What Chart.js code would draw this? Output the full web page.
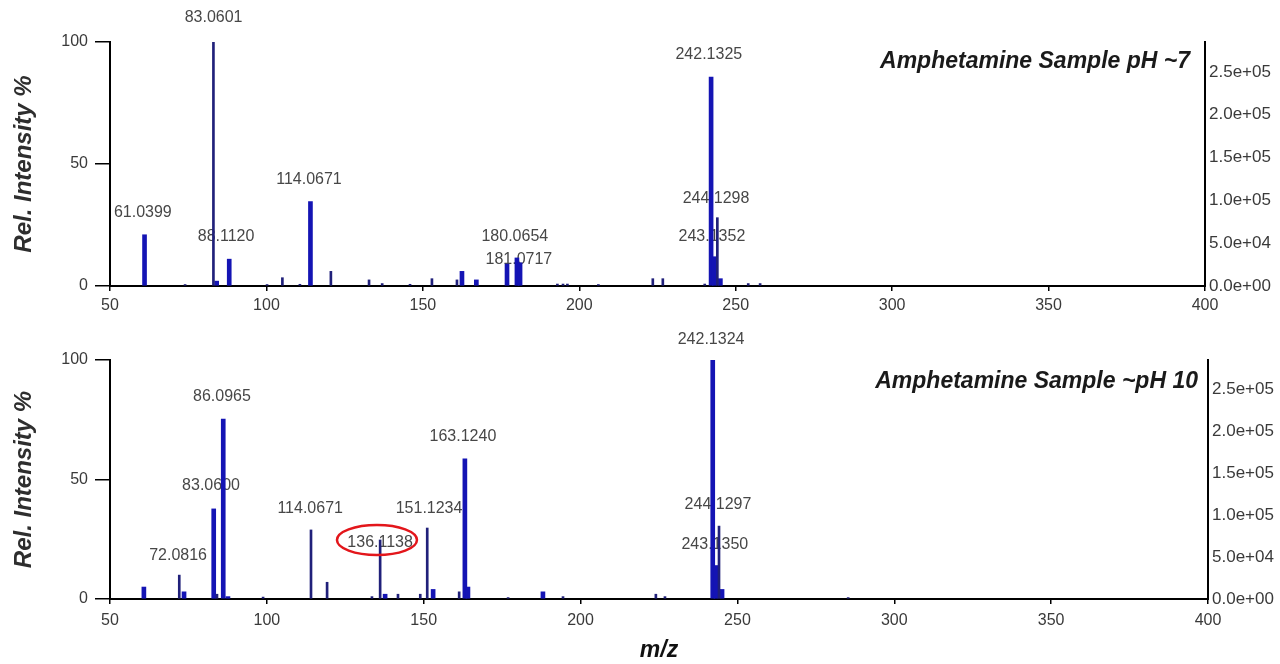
<!DOCTYPE html>
<html>
<head>
<meta charset="utf-8">
<script src="https://cdn.jsdelivr.net/npm/chart.js@4.4.1/dist/chart.umd.min.js"></script>
<style>
  body { margin: 0; background: #fff; }
  #wrap { position: relative; width: 1280px; height: 664px; }
  canvas { position: absolute; left: 0; }
</style>
</head>
<body>
<div id="wrap">
  <canvas id="ph7" width="1280" height="330" style="top:0"></canvas>
  <canvas id="ph10" width="1280" height="334" style="top:330px"></canvas>
</div>
<script>
// m/z ticks and intensity ticks
var mzTicks = [50, 100, 150, 200, 250, 300, 350, 400];
var relTicks = [0, 50, 100];
var countTicks = [0, 50000, 100000, 150000, 200000, 250000];
var countMax = 285000; // counts at 100 %

// pH ~7 sample : broad peaks and narrow lines
var ph7WideMz  = [61.04, 84.1, 88.11, 114.07, 162.5, 167.1, 176.9, 180.07, 181.07, 242.13, 243.14, 245.1];
var ph7WideRel = [21, 2, 11, 34.6, 6, 2.5, 9, 11.5, 9.5, 85.6, 12, 3];
var ph7ThinMz  = [74.0, 83.06, 100.2, 105.1, 110.7, 120.6, 132.8, 137.0, 145.9, 152.9, 160.9, 193.0, 194.8, 196.2, 206.1, 223.5, 226.7, 240.1, 244.13, 254.0, 257.8];
var ph7ThinRel = [0.6, 100, 0.6, 3.4, 0.7, 6, 2.5, 1, 0.7, 3, 2.5, 0.8, 0.8, 0.8, 0.6, 3, 3, 0.8, 28, 1, 1];
var ph7LabelText = ['83.0601', '61.0399', '88.1120', '114.0671', '180.0654', '181.0717', '242.1325', '244.1298', '243.1352'];
var ph7LabelMz   = [83.1, 60.5, 87.1, 113.6, 179.4, 180.7, 241.4, 243.7, 242.4];
var ph7LabelRel  = [110, 30, 20.2, 43.6, 20.2, 10.7, 95, 35.8, 20.2];

// pH ~10 sample
var ph10WideMz  = [60.8, 73.6, 83.06, 86.10, 87.6, 137.7, 153.0, 163.12, 164.1, 188.0, 242.13, 243.14, 245.1];
var ph10WideRel = [5, 3, 37.7, 75.3, 1, 2, 4, 58.6, 5, 3, 100, 14, 4];
var ph10ThinMz  = [72.08, 84.1, 98.8, 114.07, 119.2, 133.5, 136.11, 141.8, 148.9, 151.12, 161.3, 176.9, 194.4, 224.0, 226.9, 244.13, 285.3];
var ph10ThinRel = [10, 2, 0.8, 28.9, 7, 1, 24.7, 2, 2, 29.7, 3, 0.6, 1, 2, 1, 30.5, 0.6];
var ph10LabelText = ['242.1324', '86.0965', '83.0600', '72.0816', '114.0671', '136.1138', '151.1234', '163.1240', '244.1297', '243.1350'];
var ph10LabelMz   = [241.6, 85.7, 82.2, 71.7, 113.8, 136.1, 151.7, 162.5, 243.8, 242.8];
var ph10LabelRel  = [108.4, 84.5, 47.3, 18, 38, 23.8, 38, 67.8, 39.7, 22.6];
var circledMz = 135.1, circledRel = 24.7;

Chart.defaults.font.family = '"Liberation Sans", Arial, sans-serif';
Chart.defaults.color = '#3a3a3a';

function pts(mz, rel) {
    return mz.map(function (m, i) { return { x: m, y: rel[i] }; });
}

function sci(v) {
    if (v === 0) return '0.0e+00';
    var e = Math.floor(Math.log10(v));
    var m = v / Math.pow(10, e);
    return m.toFixed(1) + 'e+' + String(e).padStart(2, '0');
}

// peak labels go under the bars, sample name top right
var peakLabels = {
    id: 'peakLabels',
    beforeDatasetsDraw: function (chart, args, opts) {
        var ctx = chart.ctx, x = chart.scales.x, y = chart.scales.y;
        ctx.save();
        ctx.font = '16px "Liberation Sans", Arial, sans-serif';
        ctx.fillStyle = '#474747';
        ctx.textAlign = 'center';
        ctx.textBaseline = 'middle';
        opts.text.forEach(function (t, i) {
            ctx.fillText(t, x.getPixelForValue(opts.mz[i]), y.getPixelForValue(opts.rel[i]));
        });
        ctx.font = 'bold italic 23px "Liberation Sans", Arial, sans-serif';
        ctx.fillStyle = '#1a1a1a';
        ctx.textAlign = 'right';
        ctx.fillText(opts.name, chart.chartArea.right + opts.nameDx, chart.chartArea.top + opts.nameDy);
        ctx.restore();
    },
    afterDatasetsDraw: function (chart, args, opts) {
        if (opts.circle == null) return;
        var ctx = chart.ctx;
        ctx.save();
        ctx.strokeStyle = '#e3161b';
        ctx.lineWidth = 2.5;
        ctx.beginPath();
        ctx.ellipse(chart.scales.x.getPixelForValue(opts.circle[0]),
                    chart.scales.y.getPixelForValue(opts.circle[1]), 40, 15, 0, 0, Math.PI * 2);
        ctx.stroke();
        ctx.restore();
    }
};

function makeChart(id, wideMz, wideRel, thinMz, thinRel, lab, geo) {
    return new Chart(document.getElementById(id), {
        type: 'bar',
        data: {
            datasets: [
                { data: pts(thinMz, thinRel), backgroundColor: '#20207a', barThickness: 2 },
                { data: pts(wideMz, wideRel), backgroundColor: '#1414b4', barThickness: 4 }
            ]
        },
        plugins: [peakLabels],
        options: {
            responsive: false,
            animation: false,
            events: [],
            grouped: false,
            layout: { padding: { top: geo.top, left: 0, right: 0, bottom: 0 } },
            plugins: {
                legend: { display: false },
                tooltip: { enabled: false },
                peakLabels: lab
            },
            scales: {
                x: {
                    type: 'linear', min: 50, max: 400, offset: false,
                    afterBuildTicks: function (s) { s.ticks = mzTicks.map(function (v) { return { value: v }; }); },
                    afterFit: function (s) { s.height = geo.xh; },
                    grid: { offset: false, drawOnChartArea: false, tickLength: 5, color: '#000', lineWidth: 1.5 },
                    border: { color: '#000', width: 2 },
                    ticks: { font: { size: 16 }, padding: geo.xpad, maxRotation: 0, autoSkip: false },
                    title: {
                        display: geo.xtitle, text: 'm/z', color: '#111',
                        font: { size: 23, weight: 'bold', style: 'italic' },
                        padding: { top: 0, bottom: 0 }
                    }
                },
                y: {
                    position: 'left', min: 0, max: 100,
                    afterBuildTicks: function (s) { s.ticks = relTicks.map(function (v) { return { value: v }; }); },
                    afterFit: function (s) { s.width = 110; },
                    grid: { drawOnChartArea: false, tickLength: 15, color: '#000', lineWidth: 1.5 },
                    border: { color: '#000', width: 2 },
                    ticks: { font: { size: 16 }, padding: 7 },
                    title: {
                        display: true, text: 'Rel. Intensity %', color: '#2e2e2e',
                        font: { size: 24, weight: 'bold', style: 'italic' },
                        padding: { top: 10, bottom: 0 }
                    }
                },
                y1: {
                    position: 'right', min: 0, max: countMax,
                    afterBuildTicks: function (s) { s.ticks = countTicks.map(function (v) { return { value: v }; }); },
                    afterFit: function (s) { s.width = geo.rw; },
                    grid: { display: false, drawTicks: false, tickLength: 0 },
                    border: { color: '#000', width: 2 },
                    ticks: { font: { size: 17 }, padding: 4, callback: function (v) { return sci(v); } }
                }
            }
        }
    });
}

makeChart('ph7', ph7WideMz, ph7WideRel, ph7ThinMz, ph7ThinRel,
    { text: ph7LabelText, mz: ph7LabelMz, rel: ph7LabelRel, name: 'Amphetamine Sample pH ~7', nameDx: -15, nameDy: 20, circle: null },
    { top: 42, xh: 44, rw: 75, xpad: 5, xtitle: false });

makeChart('ph10', ph10WideMz, ph10WideRel, ph10ThinMz, ph10ThinRel,
    { text: ph10LabelText, mz: ph10LabelMz, rel: ph10LabelRel, name: 'Amphetamine Sample ~pH 10', nameDx: -10, nameDy: 22, circle: [circledMz, circledRel] },
    { top: 30, xh: 65, rw: 72, xpad: 7, xtitle: true });
</script>
</body>
</html>
